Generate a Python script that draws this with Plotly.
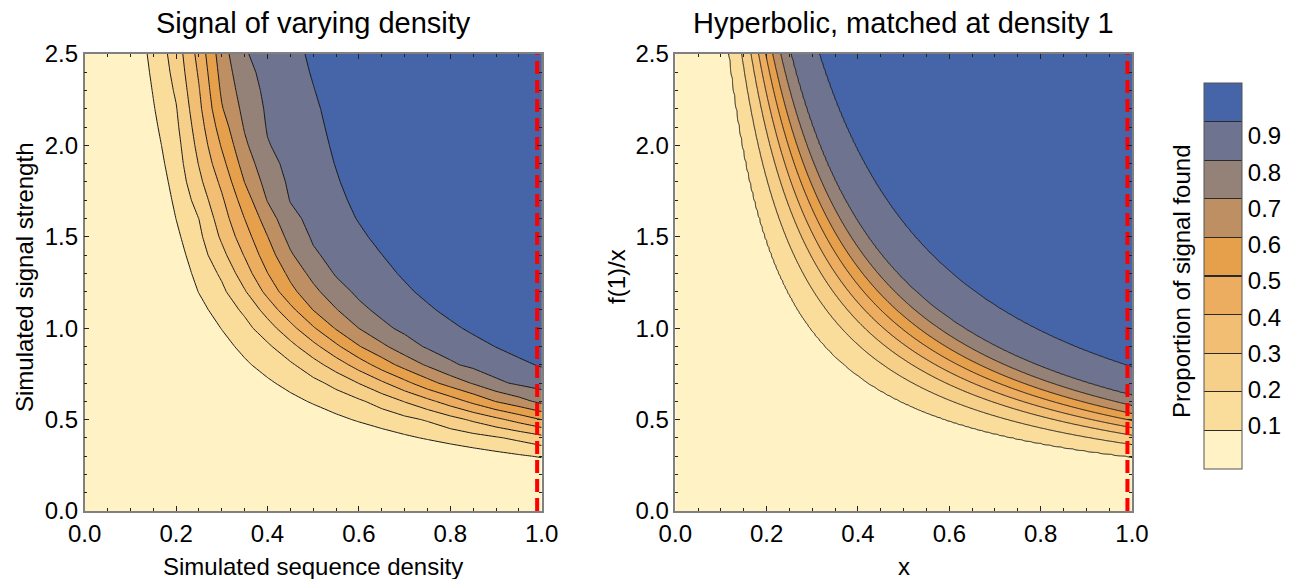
import numpy as np
import plotly.graph_objects as go

FONT = "Liberation Sans, Arial, Helvetica, sans-serif"
W, H = 1302, 579

# ---------------- data ----------------
levels = [0.1, 0.2, 0.3, 0.4, 0.5, 0.6, 0.7, 0.8, 0.9]
band_colors = ["#FFF2C4", "#FBDD9B", "#F6CF88", "#F1BE73", "#ECAD61",
               "#E6A04B", "#BE8F62", "#948278", "#6E738F", "#4665A8"]

# simulated sequence density (columns) and signal strength (rows)
density = [0.0, 0.05, 0.1, 0.15, 0.2, 0.25, 0.3, 0.35, 0.4, 0.45, 0.5,
           0.55, 0.6, 0.65, 0.7, 0.75, 0.8, 0.85, 0.9, 0.95, 1.0]
strength = [0.0, 0.1, 0.2, 0.3, 0.4, 0.5, 0.6, 0.7, 0.8, 0.9, 1.0, 1.1, 1.2,
            1.3, 1.4, 1.5, 1.6, 1.7, 1.8, 1.9, 2.0, 2.1, 2.2, 2.3, 2.4, 2.5]

# proportion of signal found (percent), one row per signal strength
found_pct = [
    [0, 0, 0, 0, 0, 0, 0, 0, 0, 0, 0, 0, 0, 0, 0, 0, 0, 0, 0, 0, 0],
    [0, 0, 0, 0, 0, 0, 0, 0, 0, 0, 0, 0, 0, 0, 0, 0, 0, 0, 0, 0, 0],
    [0, 0, 0, 0, 0, 0, 0, 0, 0, 0, 0, 0, 0, 0, 0, 0, 0, 0, 0, 0, 0],
    [0, 0, 0, 0, 0, 0, 0, 0, 0, 0, 0, 0, 0, 0, 0, 0.7, 2.7, 4.8, 6.8, 8.8, 10.9],
    [0, 0, 0, 0, 0, 0, 0, 0, 0, 0, 0, 0.4, 3.0, 5.6, 8.3, 10.9, 13.6, 16.2, 18.9, 22.3, 26.5],
    [0, 0, 0, 0, 0, 0, 0, 0, 0, 1.3, 4.5, 7.8, 11.0, 14.2, 17.4, 21.0, 26.3, 31.7, 37.5, 43.7, 50.2],
    [0, 0, 0, 0, 0, 0, 0, 0, 3.5, 7.3, 11.0, 14.8, 18.5, 23.9, 30.5, 37.3, 44.7, 52.6, 60.4, 66.4, 72.7],
    [0, 0, 0, 0, 0, 0, 0, 4.1, 8.5, 12.9, 17.3, 22.8, 30.3, 38.3, 47.1, 56.3, 64.1, 70.9, 78.0, 81.7, 84.1],
    [0, 0, 0, 0, 0, 0, 3.5, 8.5, 13.5, 18.5, 26.0, 34.8, 44.4, 54.7, 63.8, 71.3, 78.5, 82.3, 85.1, 88.0, 90.9],
    [0, 0, 0, 0, 0, 1.1, 6.8, 12.5, 18.3, 26.8, 36.9, 47.8, 59.4, 67.9, 75.6, 81.2, 84.2, 87.2, 90.2, 93.2, 96.2],
    [0, 0, 0, 0, 0, 3.8, 10.3, 16.8, 25.6, 36.7, 48.8, 60.9, 70.1, 77.7, 82.2, 85.3, 88.4, 91.5, 94.6, 97.7, 100],
    [0, 0, 0, 0, 0.1, 7.1, 14.1, 21.9, 34.0, 47.0, 60.2, 69.4, 77.7, 82.3, 85.5, 88.8, 92.0, 95.2, 98.4, 100, 100],
    [0, 0, 0, 0, 2.8, 10.3, 17.8, 29.1, 42.9, 57.0, 67.3, 76.2, 81.9, 85.2, 88.6, 91.9, 95.2, 98.6, 100, 100, 100],
    [0, 0, 0, 0, 4.3, 12.7, 21.8, 35.3, 49.8, 62.7, 73.2, 80.9, 84.3, 87.7, 91.1, 94.6, 98.0, 100, 100, 100, 100],
    [0, 0, 0, 0, 6.0, 15.3, 27.1, 40.7, 55.3, 68.6, 78.6, 83.0, 86.5, 89.9, 93.5, 97.0, 100, 100, 100, 100, 100],
    [0, 0, 0, 0, 8.0, 17.8, 31.7, 45.6, 59.8, 73.4, 81.2, 84.9, 88.5, 92.2, 95.8, 99.5, 100, 100, 100, 100, 100],
    [0, 0, 0, 0, 10.1, 20.1, 35.2, 50.1, 65.0, 77.3, 82.8, 86.7, 90.5, 94.3, 98.1, 100, 100, 100, 100, 100, 100],
    [0, 0, 0, 1.5, 11.9, 24.0, 38.4, 54.9, 70.5, 80.4, 84.2, 88.1, 91.9, 95.7, 99.5, 100, 100, 100, 100, 100, 100],
    [0, 0, 0, 2.9, 13.7, 27.6, 42.3, 60.2, 73.8, 81.7, 85.5, 89.3, 93.1, 97.0, 100, 100, 100, 100, 100, 100, 100],
    [0, 0, 0, 4.8, 15.2, 30.5, 46.8, 64.4, 76.8, 82.7, 86.5, 90.3, 94.1, 97.9, 100, 100, 100, 100, 100, 100, 100],
    [0, 0, 0, 6.4, 16.4, 33.0, 51.0, 68.2, 79.4, 83.6, 87.3, 91.1, 94.9, 98.7, 100, 100, 100, 100, 100, 100, 100],
    [0, 0, 0, 7.9, 18.0, 35.2, 55.1, 70.9, 80.7, 84.4, 88.1, 91.8, 95.6, 99.3, 100, 100, 100, 100, 100, 100, 100],
    [0, 0, 0, 9.3, 19.4, 37.5, 59.2, 73.0, 81.4, 85.1, 88.8, 92.5, 96.2, 99.8, 100, 100, 100, 100, 100, 100, 100],
    [0, 0, 0.2, 10.5, 21.3, 39.3, 61.7, 75.1, 82.2, 86.0, 89.7, 93.5, 97.2, 100, 100, 100, 100, 100, 100, 100, 100],
    [0, 0, 1.3, 11.7, 23.0, 41.3, 63.7, 77.2, 82.9, 86.8, 90.6, 94.4, 98.2, 100, 100, 100, 100, 100, 100, 100, 100],
    [0, 0, 2.3, 12.8, 24.4, 43.4, 65.7, 79.2, 83.6, 87.5, 91.4, 95.3, 99.2, 100, 100, 100, 100, 100, 100, 100, 100],
]

# signal strength f(1) at which each proportion level is reached at density 1
f1_strength = [0.296, 0.364, 0.415, 0.456, 0.495, 0.533, 0.577, 0.633, 0.788]

red_line_x = 0.99

# ---------------- derived tables ----------------
z_left = np.array(found_pct, dtype=float) / 100.0

# hyperbolic model: proportion depends only on density * strength, matched at density 1
xr = np.linspace(0, 1, 201)
yr = np.linspace(0, 2.5, 251)
product = np.outer(yr, xr)
z_right = np.interp(product, [0.0] + f1_strength + [f1_strength[-1] * 1.5],
                    [0.0] + levels + [1.0])

cs = [[i / 9, c] for i, c in enumerate(band_colors)]

# stepped colour scale for the bar legend, with thin dark separators at each level
sep, sep_col = 0.0013, "#2a2a2a"
bar_scale = []
for i, c in enumerate(band_colors):
    lo, hi = i / 10, (i + 1) / 10
    bar_scale.append([lo + (sep if i > 0 else 0.0), c])
    if i < 9:
        bar_scale.append([hi - sep, c])
        bar_scale.append([hi - sep, sep_col])
        bar_scale.append([hi + sep, sep_col])
    else:
        bar_scale.append([1.0, c])

# legend labels sit on a slightly compressed scale, as in the original bar legend
label_pos = [0.1129 + (v - 0.1) * 0.939 for v in levels]

fig = go.Figure()
contours = dict(start=0.1, end=0.9, size=0.1, coloring="fill", showlines=True)
fig.add_trace(go.Contour(x=density, y=strength, z=z_left, xaxis="x", yaxis="y",
                         contours=contours, colorscale=cs, showscale=False,
                         line=dict(color="#1a1a1a", width=1, smoothing=0), hoverinfo="skip"))
fig.add_trace(go.Contour(x=xr, y=yr, z=z_right, xaxis="x2", yaxis="y2",
                         contours=contours, colorscale=cs, showscale=False,
                         line=dict(color="#1a1a1a", width=1, smoothing=0), hoverinfo="skip"))

for xa, ya in [("x", "y"), ("x2", "y2")]:
    fig.add_trace(go.Scatter(x=[red_line_x, red_line_x], y=[strength[0], strength[-1]],
                             mode="lines", xaxis=xa, yaxis=ya,
                             line=dict(color="#FF0000", width=4, dash="13px,6px"),
                             showlegend=False, hoverinfo="skip"))

bar_top, bar_bottom = 83.3, 469.6
fig.add_trace(go.Scatter(
    x=[red_line_x] * len(levels), y=f1_strength, mode="markers", xaxis="x2", yaxis="y2",
    showlegend=False, hoverinfo="skip",
    marker=dict(size=1, opacity=0, color=levels, cmin=0, cmax=1, colorscale=bar_scale,
                showscale=True,
                colorbar=dict(thickness=38, len=bar_bottom - bar_top, lenmode="pixels",
                              x=1204.3 / W, xanchor="left", xpad=0,
                              y=(H - (bar_top + bar_bottom) / 2) / H, yanchor="middle", ypad=0,
                              outlinecolor="#555555", outlinewidth=1,
                              tickvals=label_pos, ticktext=[f"{v:.1f}" for v in levels],
                              ticks="", tickfont=dict(family=FONT, size=24, color="black")))))

ax = dict(showline=True, linecolor="#808080", linewidth=1.5, mirror="allticks",
          ticks="inside", ticklen=5, tickwidth=1, tickcolor="#222",
          showgrid=False, zeroline=False, automargin=False,
          tickfont=dict(family=FONT, size=24, color="black"))
xt = dict(range=[0, 1], tickvals=[0, 0.2, 0.4, 0.6, 0.8, 1.0], tickformat=".1f",
          minor=dict(ticks="inside", ticklen=3, tickcolor="#222", dtick=0.05, tick0=0))
yt = dict(range=[0, 2.5], tickvals=[0, 0.5, 1.0, 1.5, 2.0, 2.5], tickformat=".1f",
          minor=dict(ticks="inside", ticklen=3, tickcolor="#222", dtick=0.1, tick0=0))
ydom = [(H - 511) / H, (H - 54) / H]
fig.update_layout(
    width=W, height=H, margin=dict(l=0, r=0, t=0, b=0, autoexpand=False),
    paper_bgcolor="white", plot_bgcolor="white", showlegend=False,
    xaxis=dict(**ax, **xt, domain=[84.7 / W, 541.7 / W], anchor="y"),
    yaxis=dict(**ax, **yt, domain=ydom, anchor="x"),
    xaxis2=dict(**ax, **xt, domain=[675.3 / W, 1132 / W], anchor="y2"),
    yaxis2=dict(**ax, **yt, domain=ydom, anchor="x2"),
)


def ann(text, x, y, size, angle=0):
    fig.add_annotation(text=text, x=x / W, y=(H - y) / H, xref="paper", yref="paper",
                       showarrow=False, xanchor="center", yanchor="middle", textangle=angle,
                       font=dict(family=FONT, size=size, color="black"))


ann("Signal of varying density", 313.2, 23, 29)
ann("Hyperbolic, matched at density 1", 903.7, 23, 29)
ann("Simulated sequence density", 313.2, 566, 24)
ann("x", 903.7, 566, 24)
ann("Simulated signal strength", 24, 278, 24, -90)
ann("f(1)/x", 616, 277, 24, -90)
ann("Proportion of signal found", 1181, 281, 24, -90)

fig.write_html("out.html")
